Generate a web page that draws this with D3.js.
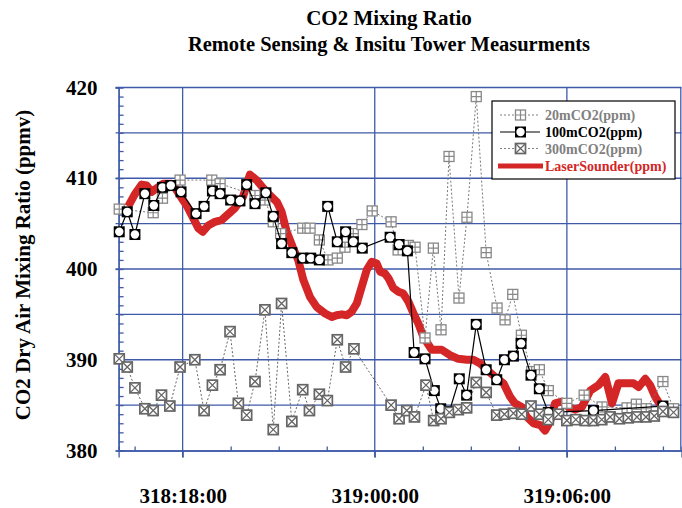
<!DOCTYPE html>
<html>
<head>
<meta charset="utf-8">
<script src="https://cdn.jsdelivr.net/npm/d3@7"></script>
<style>
body { margin: 0; background: #fff; }
text { font-family: "Liberation Serif", "Times New Roman", serif; font-weight: bold; }
</style>
</head>
<body>
<svg width="682" height="508"></svg>
<script>
// times are hours after day 318 00:00
var t20 = [16.02, 17.08, 17.37, 17.92, 18.91, 19.17, 20.26, 20.57, 20.83, 21.06, 21.75, 21.98, 22.27, 22.54,
  22.83, 23.07, 23.33, 23.6, 23.92, 24.51, 24.73, 25.05, 25.26, 25.57, 25.83, 26.07, 26.32, 26.63, 26.88,
  27.17, 27.48, 27.82, 28.07, 28.31, 28.58, 28.9, 29.14, 29.42, 30.0, 30.54, 31.1, 31.88, 32.17, 32.48,
  33.0, 33.33];
var v20 = [406.6, 406.2, 407.8, 409.8, 409.8, 409.4, 408.1, 407.6, 405.2, 403.9, 404.5, 404.5, 403.2, 401.0,
  401.2, 402.4, 403.9, 404.9, 406.4, 405.2, 402.1, 402.6, 402.4, 392.4, 402.3, 393.3, 412.4, 396.8, 405.7,
  419.0, 401.8, 395.7, 394.4, 397.2, 392.7, 388.7, 388.9, 386.6, 385.2, 386.1, 384.8, 384.7, 385.1, 384.6,
  387.6, 384.6];

var t100 = [16.02, 16.27, 16.51, 16.82, 17.10, 17.37, 17.63, 17.95, 18.42, 18.67, 18.93, 19.17, 19.50, 19.79,
  20.00, 20.26, 20.60, 20.83, 21.09, 21.41, 21.75, 22.00, 22.27, 22.53, 22.83, 23.09, 23.33, 23.61, 24.48,
  24.76, 25.02, 25.23, 25.57, 25.86, 26.06, 26.33, 26.64, 26.87, 27.17, 27.48, 27.81, 28.05, 28.33, 28.57,
  28.88, 29.14, 29.42, 30.83, 33.00];
var v100 = [404.1, 406.3, 403.8, 408.3, 407.0, 409.0, 409.2, 408.5, 406.1, 406.9, 408.6, 408.3, 407.6, 407.5,
  409.3, 407.2, 408.4, 405.8, 402.8, 401.8, 401.2, 401.2, 401.0, 406.9, 403.0, 404.1, 403.0, 402.3, 403.5,
  402.7, 402.0, 390.8, 390.1, 386.6, 384.6, 384.3, 387.9, 386.1, 393.9, 388.9, 387.8, 390.0, 390.4, 391.8,
  388.3, 386.8, 384.2, 384.4, 384.9];

var t300 = [16.02, 16.27, 16.51, 16.82, 17.08, 17.34, 17.6, 17.92, 18.38, 18.67, 18.93, 19.17, 19.48, 19.74,
  20.0, 20.26, 20.57, 20.83, 21.09, 21.41, 21.75, 21.96, 22.27, 22.52, 22.83, 23.09, 23.35, 24.51, 24.76,
  25.0, 25.24, 25.6, 25.84, 26.07, 26.33, 26.61, 26.87, 27.17, 27.48, 27.81, 28.05, 28.33, 28.59, 28.88,
  29.14, 29.42, 29.74, 30.0, 30.28, 30.57, 30.83, 31.09, 31.35, 31.64, 31.92, 32.19, 32.47, 32.73, 33.0, 33.33];
var v300 = [390.1, 389.2, 386.9, 384.6, 384.4, 386.1, 384.9, 389.2, 390.0, 384.4, 387.2, 388.9, 393.1, 385.2,
  383.9, 387.6, 395.5, 382.3, 396.2, 383.2, 386.7, 384.4, 386.2, 385.5, 392.2, 389.2, 391.2, 385.0, 383.5,
  384.4, 383.7, 387.2, 383.3, 383.5, 384.2, 384.5, 384.7, 387.5, 386.4, 383.9, 384.0, 384.1, 384.0, 384.9,
  384.0, 383.4, 384.0, 383.3, 383.4, 383.3, 383.3, 383.4, 383.7, 383.5, 383.6, 383.7, 383.7, 383.8, 384.3, 384.2];

var tLaser = [16.30, 16.50, 16.72, 16.875, 17.03, 17.19, 17.39, 17.66, 17.81, 17.97, 18.125, 18.33, 18.49, 18.625,
  18.80, 19.01, 19.22, 19.375, 19.63, 19.89, 20.10, 20.31, 20.52, 20.73, 20.94, 21.09, 21.25, 21.44, 21.61,
  21.77, 21.98, 22.19, 22.45, 22.66, 22.81, 22.97, 23.125, 23.28, 23.44, 23.59, 23.75, 23.91, 24.06, 24.17,
  24.32, 24.425, 24.58, 24.74, 24.89, 25.05, 25.21, 25.36, 25.52, 25.78, 26.09, 26.35, 26.61, 26.875, 27.08,
  27.29, 27.5, 27.76, 28.02, 28.23, 28.38, 28.59, 28.75, 28.96, 29.17, 29.32, 29.48, 29.63, 29.84, 30.05,
  30.26, 30.47, 30.73, 30.99, 31.20, 31.41, 31.61, 31.875, 32.08, 32.24, 32.45, 32.60, 32.76, 32.92];
var vLaser = [406.9, 408.2, 409.3, 409.2, 408.5, 408.9, 409.4, 409.4, 408.7, 407.8, 407.0, 405.6, 404.5, 404.1,
  404.8, 405.2, 405.4, 405.9, 406.7, 408.0, 410.4, 409.8, 408.9, 408.1, 407.4, 406.3, 404.1, 402.4, 401.0,
  398.8, 396.9, 395.8, 395.1, 394.7, 394.9, 395.0, 394.9, 395.3, 396.2, 398.0, 399.9, 400.8, 400.6, 399.7,
  399.5, 399.0, 397.9, 397.5, 397.3, 396.4, 395.1, 394.0, 392.5, 391.1, 391.1, 390.5, 390.1, 390.0, 390.0,
  389.6, 388.9, 388.1, 387.4, 385.9, 385.2, 384.8, 383.7, 383.0, 382.8, 382.2, 383.2, 385.2, 385.4, 384.8,
  384.5, 384.8, 386.6, 387.2, 388.1, 385.2, 387.4, 387.4, 387.4, 387.0, 387.9, 387.2, 385.9, 385.0];

var yLabels = [380, 390, 400, 410, 420];
var yGrid = [385, 390, 395, 400, 405, 410, 415, 420];
var xMajor = [18, 24, 30];
var xMinor = [16.5, 19.5, 21, 22.5, 25.5, 27, 28.5, 31.5, 33];
var legendNames = ['20mCO2(ppm)', '100mCO2(ppm)', '300mCO2(ppm)', 'LaserSounder(ppm)'];

var blue = '#3f5aa9', grey = '#808080', red = '#d42626';
var svg = d3.select('svg');
var x = d3.scaleLinear().domain([16, 33.58]).range([118.6, 681.5]);
var y = d3.scaleLinear().domain([380, 420]).range([450.5, 87.5]);
var x0 = x.range()[0], x1 = x.range()[1], y0 = y.range()[0], y1 = y.range()[1];

function pairs(t, v) { return t.map(function(d, i) { return [d, v[i]]; }); }
var line = d3.line().x(function(d) { return x(d[0]); }).y(function(d) { return y(d[1]); });

// titles
svg.append('text').attr('x', 389).attr('y', 25).attr('text-anchor', 'middle')
  .style('font-size', '21px').text('CO2 Mixing Ratio');
svg.append('text').attr('x', 389).attr('y', 51).attr('text-anchor', 'middle')
  .style('font-size', '20.5px').text('Remote Sensing & Insitu Tower Measurments');
svg.append('text').attr('transform', 'translate(30,265) rotate(-90)').attr('text-anchor', 'middle')
  .style('font-size', '21px').text('CO2 Dry Air Mixing Ratio (ppmv)');

// grid
var grid = svg.append('g').attr('stroke', blue).attr('stroke-width', 1.3);
grid.selectAll('.hg').data(yGrid).enter().append('line')
  .attr('x1', x0 - 3).attr('x2', x1).attr('y1', function(d) { return y(d); }).attr('y2', function(d) { return y(d); });
grid.selectAll('.vg').data(xMajor).enter().append('line')
  .attr('y1', y1).attr('y2', y0 + 7).attr('x1', function(d) { return x(d); }).attr('x2', function(d) { return x(d); });
grid.append('line').attr('x1', x1 - 0.7).attr('x2', x1 - 0.7).attr('y1', y1).attr('y2', y0);

// axes
var yAxis = svg.append('g').attr('transform', 'translate(' + x0 + ',0)')
  .call(d3.axisLeft(y).tickValues(yLabels).tickSize(3).tickPadding(18).tickFormat(d3.format('d')));
yAxis.selectAll('text').style('font-size', '21px').attr('fill', '#000');
var yMinor = svg.append('g').attr('transform', 'translate(' + x0 + ',0)')
  .call(d3.axisRight(y).tickValues(d3.range(381, 420, 1)).tickSize(5).tickFormat(''));
var xAxis = svg.append('g').attr('transform', 'translate(0,' + y0 + ')')
  .call(d3.axisBottom(x).tickValues(xMajor).tickSize(7).tickPadding(31)
    .tickFormat(function(d) { return (318 + Math.floor(d / 24)) + ':' + d3.format('02d')(d % 24) + ':00'; }));
xAxis.selectAll('text').style('font-size', '21px').attr('fill', '#000');
var xMinorAxis = svg.append('g').attr('transform', 'translate(0,' + y0 + ')')
  .call(d3.axisTop(x).tickValues(xMinor).tickSize(4).tickFormat(''));
[yAxis, yMinor, xAxis, xMinorAxis].forEach(function(a) {
  a.selectAll('path,line').attr('stroke', blue).attr('stroke-width', 1.3);
});

// series
var plot = svg.append('g');
plot.append('path').datum(pairs(tLaser, vLaser)).attr('d', line)
  .attr('fill', 'none').attr('stroke', red).attr('stroke-width', 8).attr('stroke-linejoin', 'round');

function markerPlus(g, c) {
  g.append('rect').attr('x', -5).attr('y', -5).attr('width', 10).attr('height', 10)
    .attr('fill', '#fff').attr('stroke', c).attr('stroke-width', 1.3);
  g.append('path').attr('d', 'M-5,0H5M0,-5V5').attr('stroke', c).attr('stroke-width', 1.2);
}
function markerX(g, c) {
  g.append('rect').attr('x', -5).attr('y', -5).attr('width', 10).attr('height', 10)
    .attr('fill', '#fff').attr('stroke', c).attr('stroke-width', 1.7);
  g.append('path').attr('d', 'M-5,-5L5,5M5,-5L-5,5').attr('stroke', c).attr('stroke-width', 1.3);
}
function markerRing(g) {
  g.append('rect').attr('x', -5.5).attr('y', -5.5).attr('width', 11).attr('height', 11).attr('fill', '#000');
  g.append('circle').attr('r', 4.2).attr('fill', '#fff');
}

function series(t, v, dash, col, width, mk) {
  var d = pairs(t, v);
  plot.append('path').datum(d).attr('d', line).attr('fill', 'none')
    .attr('stroke', col).attr('stroke-width', width).attr('stroke-dasharray', dash);
  plot.selectAll(null).data(d).enter().append('g')
    .attr('transform', function(p) { return 'translate(' + x(p[0]) + ',' + y(p[1]) + ')'; })
    .each(function() { mk(d3.select(this)); });
}
series(t20, v20, '2,2', '#777', 1, function(g) { markerPlus(g, '#888'); });
series(t100, v100, null, '#000', 1.2, markerRing);
series(t300, v300, '2,2', '#666', 1, function(g) { markerX(g, '#666'); });

// legend
var lg = svg.append('g');
lg.append('rect').attr('x', 492).attr('y', 101).attr('width', 183).attr('height', 78)
  .attr('fill', '#fff').attr('stroke', '#000').attr('stroke-width', 1.2);
var rows = [115, 132, 148.5, 166];
var textCols = [grey, '#000', grey, red];
legendNames.forEach(function(name, i) {
  var ly = rows[i];
  if (i === 3) {
    lg.append('line').attr('x1', 498).attr('x2', 543).attr('y1', ly).attr('y2', ly)
      .attr('stroke', red).attr('stroke-width', 5);
  } else {
    lg.append('line').attr('x1', 500).attr('x2', 540).attr('y1', ly).attr('y2', ly)
      .attr('stroke', i === 1 ? '#000' : grey).attr('stroke-width', i === 1 ? 1.2 : 1)
      .attr('stroke-dasharray', i === 1 ? null : '2,2');
    var m = lg.append('g').attr('transform', 'translate(520.5,' + ly + ')');
    if (i === 0) markerPlus(m, '#888');
    else if (i === 1) markerRing(m);
    else markerX(m, '#666');
  }
  lg.append('text').attr('x', 545).attr('y', ly + 5).style('font-size', '14px')
    .attr('fill', textCols[i]).text(name);
});
</script>
</body>
</html>
